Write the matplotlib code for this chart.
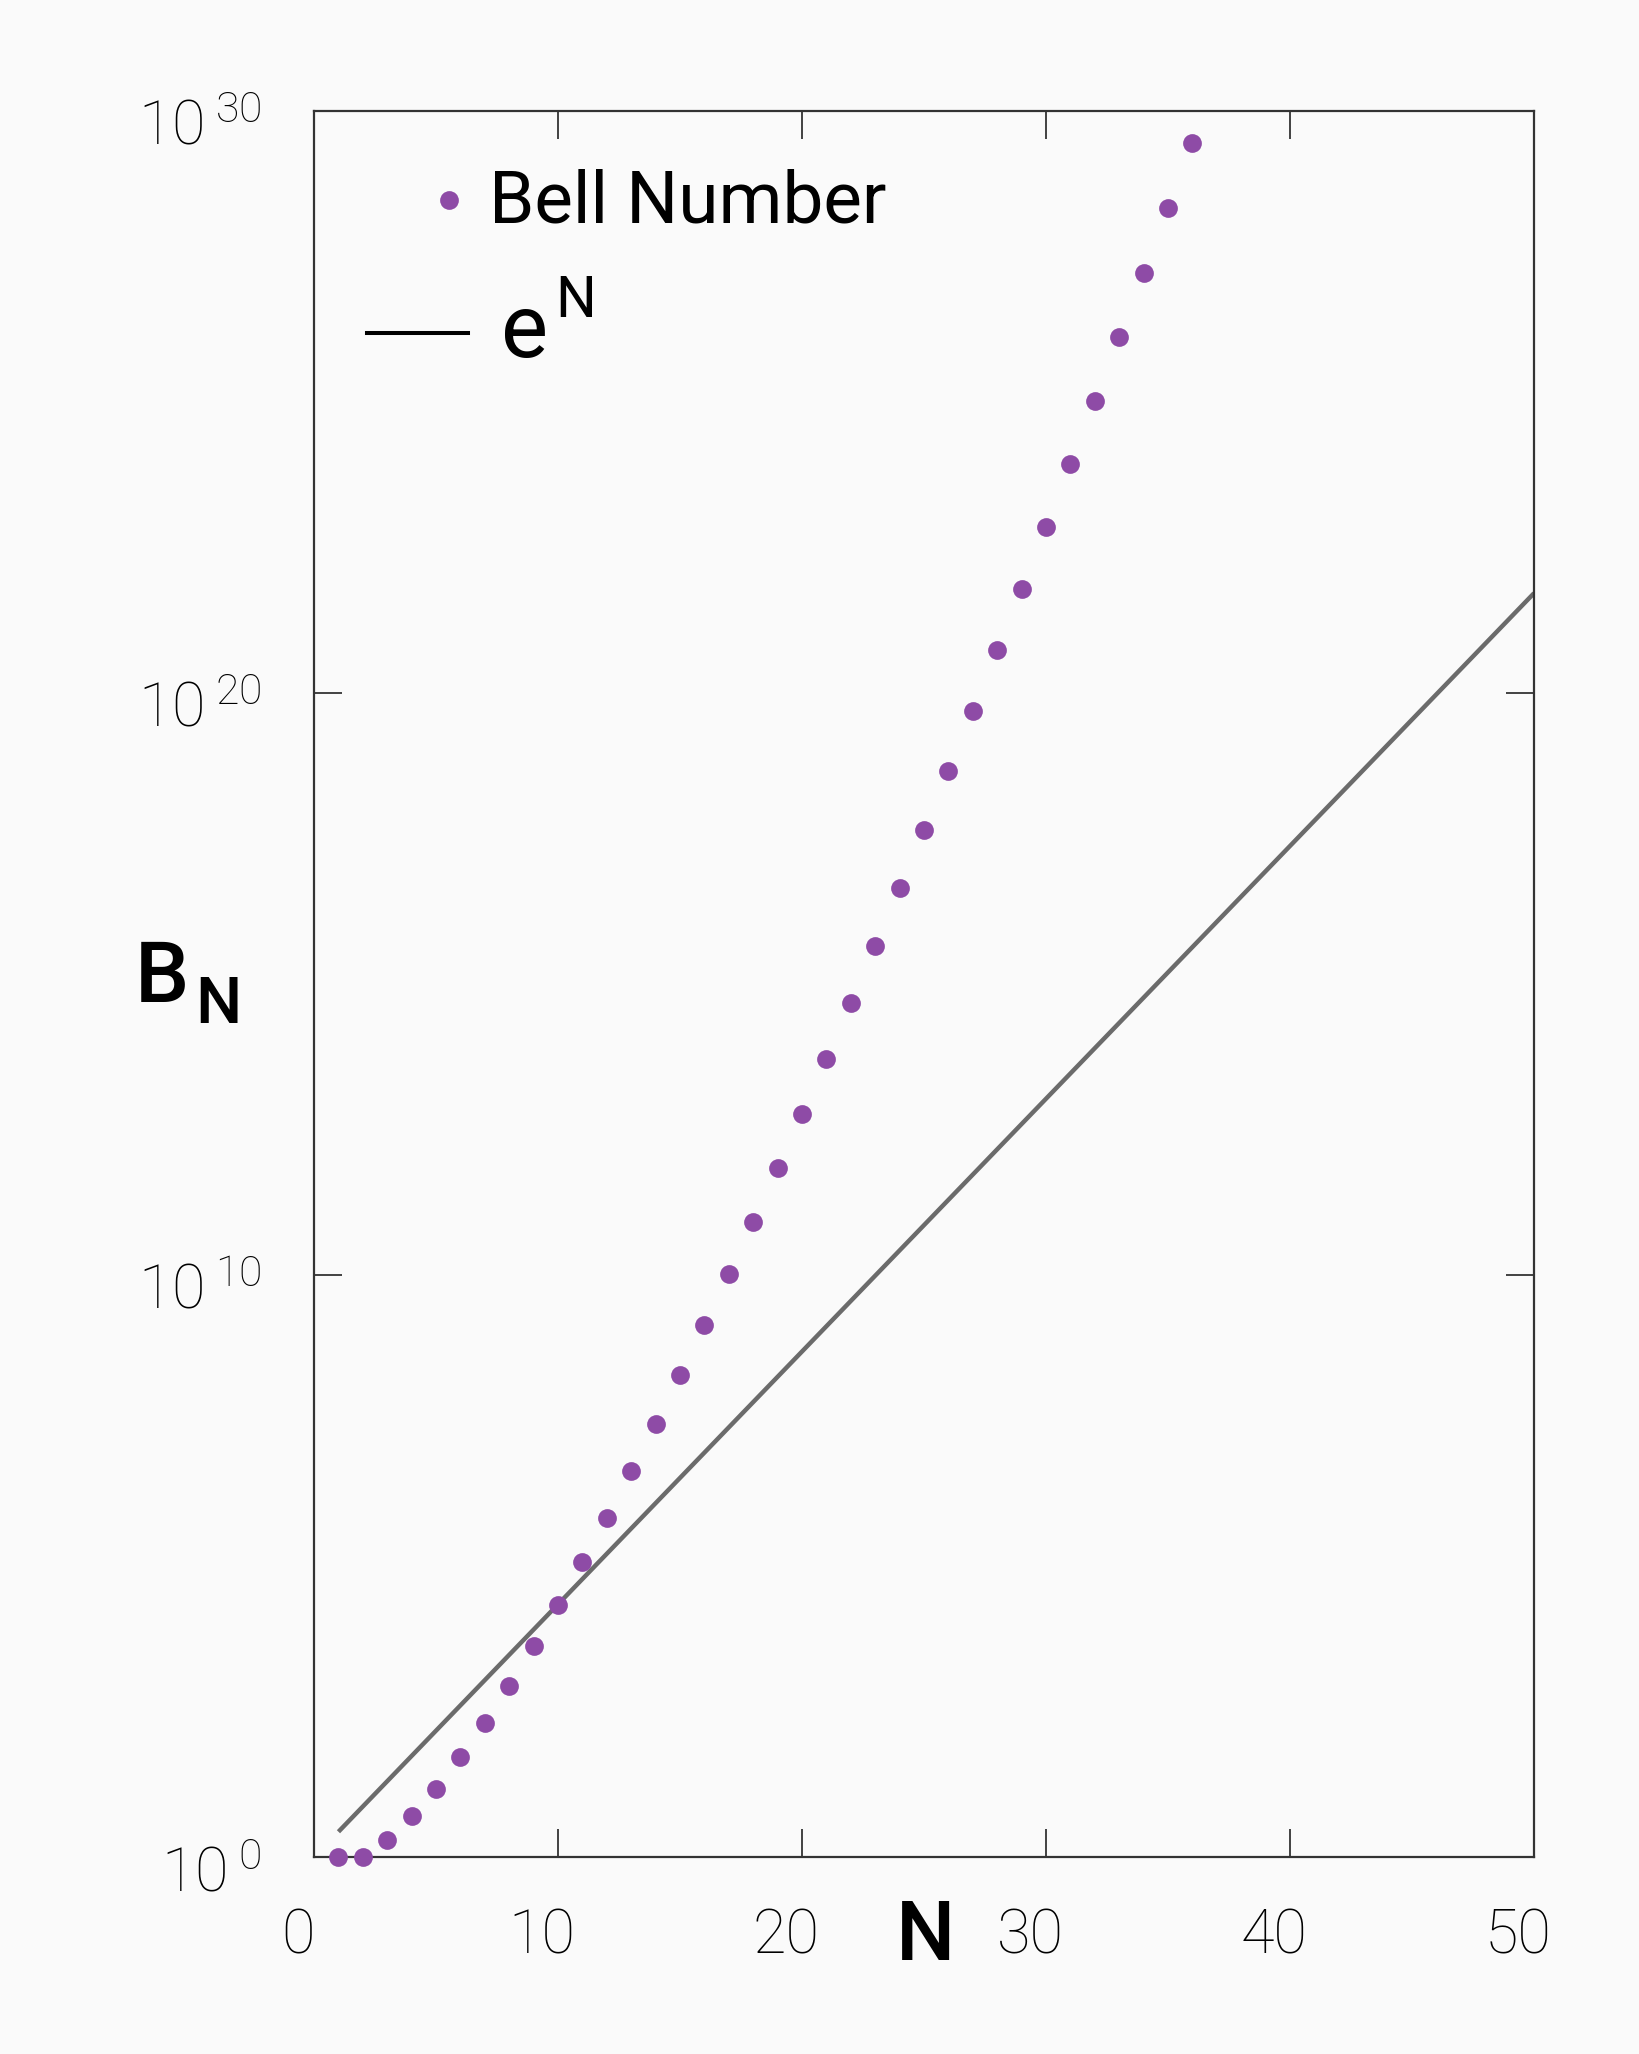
import matplotlib
matplotlib.use("Agg")
import matplotlib.pyplot as plt
import matplotlib.transforms as mtransforms
import numpy as np

# Bell numbers B_0 .. B_35, plotted against N = 1 .. 36
n_values = list(range(1, 37))
bell_numbers = [
    1, 1, 2, 5, 15, 52, 203, 877, 4140, 21147,
    115975, 678570, 4213597, 27644437, 190899322,
    1382958545, 10480142147, 82864869804, 682076806159,
    5832742205057, 51724158235372, 474869816156751,
    4506715738447323, 44152005855084346, 445958869294805289,
    4638590332229999353, 49631246523618756274,
    545717047936059989389, 6160539404599934652455,
    71339801938860275191172, 846749014511809332450147,
    10293358946226376485095653, 128064670049908713818925644,
    1629595892846007606764728147, 21195039388640360462388656799,
    281600203019560266563340426570,
]
exp_n = [1, 50]

x_ticks = [0, 10, 20, 30, 40, 50]
y_exponents = [0, 10, 20, 30]

bg = "#fafafa"
purple = "#8e4ba6"
grey = "#6b6b6b"

plt.rcParams["font.family"] = ["Roboto", "DejaVu Sans"]

fig = plt.figure(figsize=(16.4, 20.54), dpi=100, facecolor=bg)
ax = fig.add_axes([0.1915, 0.0959, 0.7439, 0.8501], facecolor=bg)

# e^N reference line
n_line = np.linspace(exp_n[0], exp_n[1], 200)
ax.plot(n_line, np.exp(n_line), color=grey, lw=3.2, solid_capstyle="butt")

# Bell numbers
ax.plot(n_values, [float(b) for b in bell_numbers], "o", color=purple,
        ms=13.5, mec="none", clip_on=False, zorder=3)

ax.set_yscale("log")
ax.set_xlim(0, 50)
ax.set_ylim(1, 1e30)

ax.set_xticks(x_ticks)
ax.set_xticklabels([str(t) for t in x_ticks])
ax.set_yticks([10.0 ** e for e in y_exponents])
ax.set_yticklabels([r"$\mathregular{10\,{}^{%d}}$" % e for e in y_exponents])
ax.yaxis.set_minor_locator(matplotlib.ticker.NullLocator())

ax.tick_params(axis="both", which="major", direction="in", length=20, width=1.3,
               color="#333333", top=True, right=True, labelcolor="#000000")
ax.tick_params(axis="x", pad=36, labelsize=44)
ax.tick_params(axis="y", pad=38, labelsize=44)

for lab in ax.get_xticklabels():
    lab.set_fontweight("light")
    lab.set_transform(lab.get_transform() +
                      mtransforms.ScaledTranslation(-0.16, 0, fig.dpi_scale_trans))
for lab in ax.get_yticklabels():
    lab.set_fontweight("light")
    lab.set_transform(lab.get_transform() +
                      mtransforms.ScaledTranslation(0, -0.11, fig.dpi_scale_trans))

for sp in ax.spines.values():
    sp.set_linewidth(1.6)
    sp.set_color("#333333")

# axis labels
ax.text(0.501, -0.0458, "N", transform=ax.transAxes, ha="center", va="center",
        fontsize=60, fontweight="medium", color="black")
fig.text(135 / 1640, 1 - 978 / 2054, "B", ha="left", va="center",
         fontsize=62, fontweight="medium", color="black")
fig.text(195 / 1640, 1 - 1005 / 2054, "N", ha="left", va="center",
         fontsize=47, fontweight="medium", color="black")

# legend
ax.plot([0.111], [0.9488], "o", color=purple, ms=13.5, mec="none",
        transform=ax.transAxes)
ax.text(0.143, 0.9470, "Bell Number", transform=ax.transAxes, ha="left",
        va="center", fontsize=52.5, fontweight="normal", color="black")
ax.plot([0.043, 0.126], [0.8729, 0.8729], color="black", lw=2.9,
        transform=ax.transAxes)
ax.text(0.153, 0.8729, "e", transform=ax.transAxes, ha="left", va="center",
        fontsize=64, fontweight="normal", color="black")
ax.text(0.198, 0.8906, "N", transform=ax.transAxes, ha="left", va="center",
        fontsize=41, fontweight="normal", color="black")

fig.savefig("out.png", dpi=100, facecolor=bg)
